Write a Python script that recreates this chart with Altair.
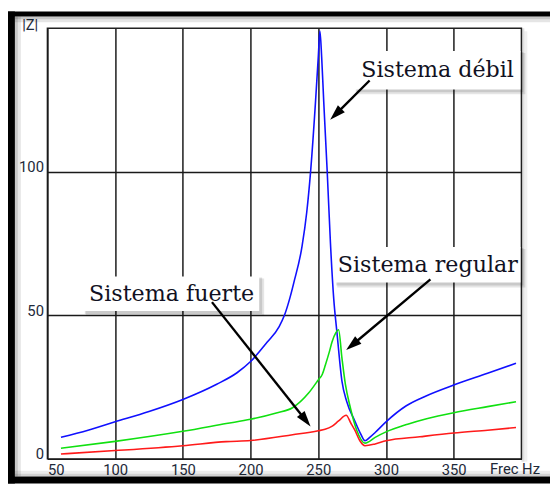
import math
import altair as alt
import pandas as pd

# ---------------- data ----------------
blue_hz = [60, 80, 100, 125, 150, 175, 190, 200, 212, 221, 225, 229, 232, 238, 241.5,
           244.4, 248, 250, 251.2, 252.5, 254, 256.6, 259, 261.4, 263.8, 267.5, 271, 277,
           281, 284.5, 288, 292, 300, 315, 330, 350, 375, 396]
blue_z = [7.5, 10.0, 12.9, 16.5, 20.7, 26.0, 30.0, 33.9, 40.5, 46, 50.0, 56, 61.5, 74, 86,
          100.5, 124.7, 140, 149, 140, 124.7, 100, 75, 55.8, 44, 27, 20, 13.2,
          9, 6.3, 7.5, 9.2, 12.9, 18.5, 22, 25.7, 29.8, 33.3]

green_hz = [60, 100, 150, 182, 200, 219, 231, 243, 250, 253, 255.3, 258, 260.2, 263, 265,
            267.5, 270, 273.6, 278.4, 284.5, 292, 300, 316, 330, 350, 375, 396]
green_z = [3.7, 6.1, 9.6, 12.3, 13.8, 16.0, 17.8, 23, 27.5, 29.5, 32.8, 37, 40.8, 44, 45,
           35, 26, 18, 10, 5.5, 7.5, 9.4, 12.1, 14, 16.1, 18.2, 19.9]

red_hz = [60, 100, 150, 182, 200, 231, 250, 255, 260, 265, 270.6, 274, 277, 280.7, 284.5,
          292, 300, 325, 350, 375, 396]
red_z = [1.7, 2.9, 4.6, 6.0, 6.4, 8.4, 9.8, 10.3, 11.3, 13.2, 15.2, 12.5, 10, 6.3, 4.6,
         5.2, 6.3, 7.7, 9.0, 10.0, 10.9]

x_ticks = [50, 100, 150, 200, 250, 300, 350]
y_ticks = [0, 50, 100]
x_title = "Frec Hz"
y_title = "|Z|"

labels = ["Sistema débil", "Sistema regular", "Sistema fuerte"]
label_hz = [338.1, 330.9, 141.7]
label_z = [135.4, 67.6, 57.5]
box_hz1 = [277.0, 262.5, 76.9]
box_hz2 = [399.3, 399.3, 206.4]
box_z1 = [142.1, 73.8, 63.5]
box_z2 = [128.7, 61.4, 51.5]

arrow_from_hz = [287.9, 332.8, 171.5]
arrow_from_z = [131.8, 62.5, 54.6]
arrow_to_hz = [258.8, 270.6, 244.3]
arrow_to_z = [118.1, 37.9, 11.3]

SERIF = "DejaVu Serif"
SANS = "Roboto"

# ---------------- layout ----------------
X_DOM = [50, 400]
Y_DOM = [0, 150]
W, H = 481, 437
PXH = W / (X_DOM[1] - X_DOM[0])
PXZ = H / (Y_DOM[1] - Y_DOM[0])

rows = []
for name, hs, zs in [("débil", blue_hz, blue_z), ("regular", green_hz, green_z),
                     ("fuerte", red_hz, red_z)]:
    for i, (h, z) in enumerate(zip(hs, zs)):
        rows.append({"serie": name, "hz": h, "z": z, "o": i})
curves = pd.DataFrame(rows)

boxes = pd.DataFrame({"hz": box_hz1, "hz2": box_hz2, "z": box_z1, "z2": box_z2})
texts = pd.DataFrame({"hz": label_hz, "z": label_z, "t": labels})

ar = []
for fh, fz, th, tz in zip(arrow_from_hz, arrow_from_z, arrow_to_hz, arrow_to_z):
    dx = (th - fh) * PXH
    dy = -(tz - fz) * PXZ
    L = math.hypot(dx, dy)
    ang = math.degrees(math.atan2(dx, -dy)) % 360
    back = 10.0 / L
    ar.append({"hz": fh, "z": fz,
               "hz2": th - (th - fh) * back, "z2": tz - (tz - fz) * back,
               "th": th, "tz": tz, "ang": ang})
arrows = pd.DataFrame(ar)
heads = arrows[["th", "tz", "ang"]].rename(columns={"th": "hz", "tz": "z"})

xs = alt.Scale(domain=X_DOM, nice=False, zero=False)
ys = alt.Scale(domain=Y_DOM, nice=False, zero=True)

x_axis = alt.Axis(values=x_ticks, title=x_title, titleX=474, titleY=10,
                  titleBaseline="middle", titleAlign="center", titleAngle=0,
                  labelPadding=4, format="d")
y_axis = alt.Axis(values=y_ticks, title=y_title, titleX=-18, titleY=-4,
                  titleBaseline="middle", titleAlign="center", titleAngle=0,
                  labelPadding=4, labelBaseline="alphabetic", format="d")

X = alt.X("hz:Q", scale=xs, axis=x_axis)
Y = alt.Y("z:Q", scale=ys, axis=y_axis)

lines = alt.Chart(curves).mark_line(strokeWidth=1.6, clip=True, interpolate="monotone").encode(
    x=X, y=Y, order="o:Q",
    color=alt.Color("serie:N", scale=alt.Scale(domain=["débil", "regular", "fuerte"],
                                               range=["#1010ff", "#10e010", "#ff1a1a"]),
                    legend=None),
    detail="serie:N",
)

shadow2 = alt.Chart(boxes).mark_rect(color="#000000", opacity=0.10, xOffset=2, x2Offset=5,
                                     yOffset=2, y2Offset=5).encode(
    x=X, x2="hz2:Q", y=Y, y2="z2:Q")
shadow1 = alt.Chart(boxes).mark_rect(color="#000000", opacity=0.12, xOffset=1, x2Offset=3,
                                     yOffset=1, y2Offset=3).encode(
    x=X, x2="hz2:Q", y=Y, y2="z2:Q")
box = alt.Chart(boxes).mark_rect(color="white", opacity=1).encode(
    x=X, x2="hz2:Q", y=Y, y2="z2:Q")
txt = alt.Chart(texts).mark_text(font=SERIF, fontSize=22.5, color="#111122",
                                 align="center", baseline="middle").encode(
    x=X, y=Y, text="t:N")

arrow_lines = alt.Chart(arrows).mark_rule(color="black", strokeWidth=2.4).encode(
    x=X, y=Y, x2="hz2:Q", y2="z2:Q")
arrow_heads = alt.Chart(heads).mark_point(shape="M0,0L0.62,2L-0.62,2Z", filled=True,
                                          color="black", opacity=1, size=256,
                                          strokeWidth=0).encode(
    x=X, y=Y, angle=alt.Angle("ang:Q", scale=None))

dummy = pd.DataFrame({"k": [0]})
def band(x1, x2, y1, y2, color, op=1.0):
    return alt.Chart(dummy).mark_rect(color=color, opacity=op).encode(
        x=alt.value(x1), x2=alt.value(x2), y=alt.value(y1), y2=alt.value(y2))

frame = [
    band(-41, 512, 455, 462, "black"),
    band(-41, 512, -17, -12, "black"),
    band(-41, -33, -17, 462, "black"),
    band(-33, -30, -12, 455, "#000", 0.22),
    band(-30, -27, -12, 455, "#000", 0.10),
    band(-33, 512, -12, -9, "#000", 0.22),
    band(-33, 512, -9, -6, "#000", 0.10),
    band(-33, 512, 452, 455, "#000", 0.18),
    band(-33, 512, 449, 452, "#000", 0.08),
    band(W, W + 3, 0, H + 3, "#000", 0.12),
    band(W + 3, W + 6, 3, H + 3, "#000", 0.06),
]

chart = alt.layer(*frame, lines, shadow2, shadow1, box, txt, arrow_lines, arrow_heads).properties(
    width=W, height=H,
    autosize=alt.AutoSizeParams(type="none"),
    padding={"left": 40, "top": 17, "right": 29, "bottom": 25},
    background="white",
).configure_view(stroke="#222222", strokeWidth=1.5).configure_axis(
    grid=True, gridColor="#1a1a1a", gridWidth=1.5, gridOpacity=1,
    domain=False, ticks=False,
    labelFont=SANS, labelFontSize=15, labelColor="#1e2a3a",
    titleFont=SANS, titleFontSize=15, titleFontWeight="normal",
    titleColor="#1e2a3a",
)

chart.save("out.html", embed_options={"renderer": "svg", "actions": False})
